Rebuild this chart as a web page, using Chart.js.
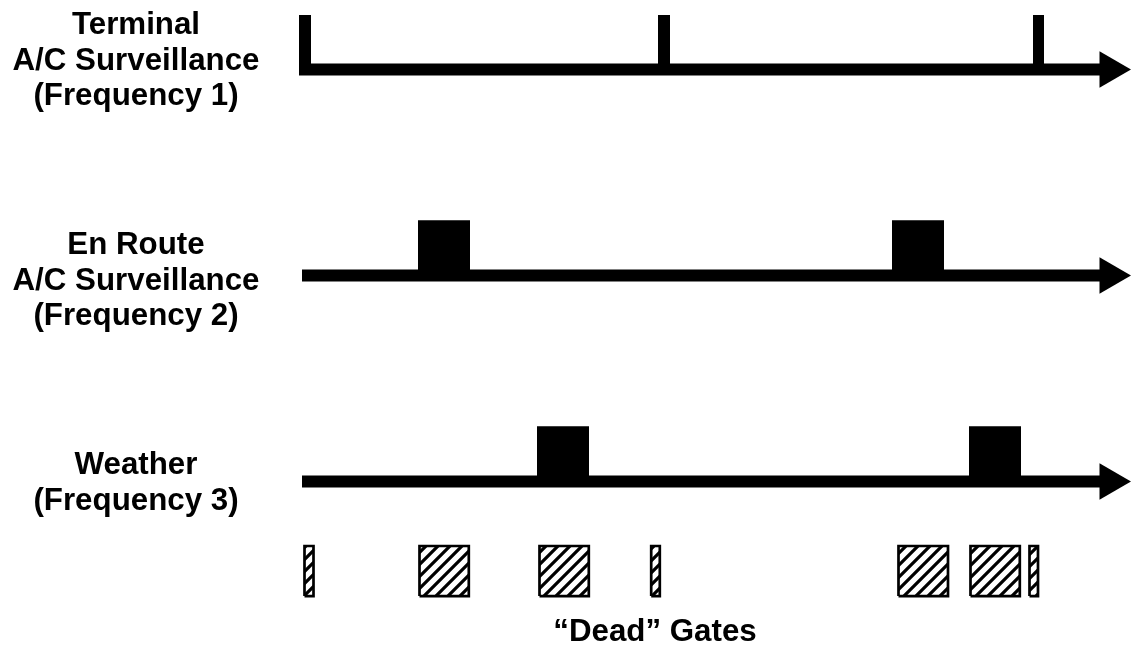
<!DOCTYPE html>
<html lang="en">
<head>
<meta charset="UTF-8" />
<title>Frequency timing with dead gates</title>
<script src="https://cdn.jsdelivr.net/npm/chart.js"></script>
<style>
  body { margin: 0; background: #fff; }
  #wrap { position: relative; width: 1132px; height: 645px; }
  #timing { position: absolute; left: 0; top: 0; }
  .lbl {
    position: absolute;
    font-family: "Liberation Sans", Arial, sans-serif;
    font-weight: bold;
    font-size: 31.3px;
    line-height: 35.5px;
    text-align: center;
    color: #000;
    white-space: nowrap;
  }
</style>
</head>
<body>
<div id="wrap">
  <canvas id="timing" width="1132" height="645"></canvas>
  <div class="lbl" style="left:0; width:272px; top:6px;">Terminal<br>A/C Surveillance<br>(Frequency 1)</div>
  <div class="lbl" style="left:0; width:272px; top:226px;">En Route<br>A/C Surveillance<br>(Frequency 2)</div>
  <div class="lbl" style="left:0; width:272px; top:446px;">Weather<br>(Frequency 3)</div>
  <div class="lbl" style="left:505px; width:300px; top:613px;">“Dead” Gates</div>
</div>
<script>
// time runs left to right, lanes are stacked as signal levels
const laneLevels = [2, 1, 0];           // Terminal, En Route, Weather
const laneStart = [-1, 2, 2];
const laneEnd = 805;
const arrowAt = 810;

// pulses as [start, end] in time units
const terminalPulses = [[-1, 11], [358, 370], [733, 744]];
const enRoutePulses = [[118, 170], [592, 644]];
const weatherPulses = [[237, 289], [669, 721]];
const pulseHeights = [0.265, 0.268, 0.268];

// "dead" gates below the weather lane
const deadGates = [[4.5, 13.5], [119.5, 168.8], [239.5, 288.8], [351.2, 359.8],
                   [598.5, 648], [670.5, 719.8], [729.5, 738]];
const gateBottom = -0.556;
const gateTop = -0.313;

// diagonal hatch for the gates
const tile = document.createElement("canvas");
tile.width = 12;
tile.height = 12;
const tctx = tile.getContext("2d");
tctx.fillStyle = "#fff";
tctx.fillRect(0, 0, 12, 12);
tctx.strokeStyle = "#000";
tctx.lineWidth = 3.2;
tctx.beginPath();
tctx.moveTo(-1, 13); tctx.lineTo(13, -1);
tctx.moveTo(-7, 7); tctx.lineTo(7, -7);
tctx.moveTo(5, 19); tctx.lineTo(19, 5);
tctx.stroke();
const hatch = document.getElementById("timing").getContext("2d").createPattern(tile, "repeat");

const rect = (x0, x1, y0, y1) => [
  { x: x0, y: y0 }, { x: x0, y: y1 }, { x: x1, y: y1 }, { x: x1, y: y0 }, { x: x0, y: y0 },
];

const datasets = [];

// lane lines
laneLevels.forEach((lvl, i) => {
  datasets.push({
    type: "line",
    data: [{ x: laneStart[i], y: lvl }, { x: laneEnd, y: lvl }],
    borderColor: "#000",
    borderWidth: 12,
    borderCapStyle: "butt",
    fill: false,
  });
});

// pulses
[terminalPulses, enRoutePulses, weatherPulses].forEach((pulses, i) => {
  pulses.forEach(([s, e]) => {
    datasets.push({
      type: "line",
      data: rect(s, e, laneLevels[i], laneLevels[i] + pulseHeights[i]),
      backgroundColor: "#000",
      borderWidth: 0,
      fill: "shape",
    });
  });
});

// dead gates
deadGates.forEach(([s, e]) => {
  datasets.push({
    type: "line",
    data: rect(s, e, gateBottom, gateTop),
    backgroundColor: hatch,
    borderColor: "#000",
    borderWidth: 2.7,
    borderJoinStyle: "miter",
    fill: "shape",
  });
});

// arrow heads
datasets.push({
  type: "scatter",
  data: laneLevels.map(lvl => ({ x: arrowAt, y: lvl })),
  pointStyle: "triangle",
  rotation: 90,
  pointRadius: 21,
  backgroundColor: "#000",
  borderWidth: 0,
});

new Chart(document.getElementById("timing"), {
  type: "line",
  data: { datasets },
  options: {
    responsive: false,
    animation: false,
    layout: { padding: 0, autoPadding: false },
    elements: { point: { radius: 0 }, line: { tension: 0 } },
    plugins: { legend: { display: false }, tooltip: { enabled: false } },
    scales: {
      x: { type: "linear", display: false, min: -300, max: 832 },
      y: { type: "linear", display: false, min: -0.7937, max: 2.3374 },
    },
  },
});
</script>
</body>
</html>
